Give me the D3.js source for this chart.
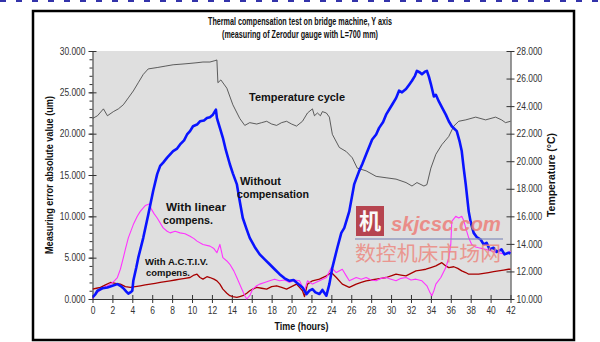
<!DOCTYPE html>
<html><head><meta charset="utf-8">
<script src="https://cdn.jsdelivr.net/npm/d3@7"></script>
<style>
body{margin:0;background:#fff;}
svg{display:block;}
text{font-family:"Liberation Sans","Arial",sans-serif;}
</style></head>
<body>
<svg id="c" width="600" height="342"></svg>
<script>
// ---- data ----
const titleLines = ["Thermal compensation test on bridge machine, Y axis", "(measuring of Zerodur gauge with L=700 mm)"];
const xTicks = d3.range(0, 43, 2);
const leftTicks = [0, 5, 10, 15, 20, 25, 30];
const rightTicks = [10, 12, 14, 16, 18, 20, 22, 24, 26, 28];

const tempHours = [0,0.5,1.1,1.5,2.1,2.6,3.1,3.6,4.1,4.6,5.1,5.6,6.5,7.3,8.1,9.0,9.8,10.5,11.1,11.8,12.3,12.5,12.6,12.9,13.2,13.5,14.1,14.8,15.3,15.8,16.5,17.0,17.5,18.0,18.5,19.0,19.5,20.0,20.5,21.1,21.6,22.1,22.3,22.6,22.9,23.1,23.5,23.8,24.1,24.8,25.5,26.1,26.6,27.5,28.5,29.5,30.5,31.5,32.1,32.6,33.3,33.6,34.0,34.5,35.1,35.8,36.3,36.8,37.5,38.5,39.5,40.5,41.1,41.5,42];
const tempValues = [23.1,23.3,23.8,23.3,23.6,23.8,24.1,24.6,25.1,25.7,26.3,26.7,26.8,26.9,27.0,27.05,27.1,27.15,27.2,27.2,27.3,27.35,25.7,25.9,25.6,25.3,24.1,23.1,22.6,22.8,22.7,22.8,22.9,22.7,22.6,22.8,22.9,22.7,22.55,22.9,23.5,23.8,23.3,23.5,23.3,23.6,23.5,23.2,21.95,21.0,20.7,20.25,19.5,19.3,18.9,18.8,18.7,18.45,18.2,18.45,18.2,18.3,19.5,20.5,21.2,21.8,22.55,22.9,23.0,23.2,23.0,23.2,23.0,22.8,22.9];

const withoutHours = [0,0.3,0.5,1.0,1.5,2.0,2.5,2.8,3.1,3.4,3.6,3.8,4.0,4.1,4.4,4.6,5.1,5.6,6.1,6.5,6.8,7.1,7.5,8.1,8.5,8.8,9.2,9.5,9.8,10.1,10.5,10.8,11.2,11.5,11.8,12.1,12.4,12.5,12.6,12.8,13.1,13.4,13.8,14.1,14.5,14.8,15.1,15.5,15.8,16.3,16.8,17.3,17.8,18.3,18.8,19.3,19.8,20.2,20.5,20.8,21.1,21.5,21.8,22.1,22.4,22.8,23.1,23.5,23.8,24.1,24.6,25.0,25.3,25.8,26.3,26.8,27.1,27.5,28.1,28.5,28.8,29.2,29.5,30.1,30.5,30.8,31.1,31.5,31.8,32.1,32.4,32.6,32.9,33.1,33.4,33.6,33.8,34.0,34.3,34.5,34.8,35.1,35.5,35.8,36.1,36.6,36.9,37.1,37.3,37.5,37.8,38.0,38.3,38.6,39.0,39.3,39.6,39.9,40.3,40.6,41.1,41.4,41.8,42];
const withoutValues = [0.2,0.6,1.0,1.3,1.4,1.6,1.8,1.6,1.3,0.9,0.65,0.8,1.0,2.2,3.8,5.0,7.4,10.2,13.1,15.1,16.1,16.5,17.1,17.9,18.2,18.7,19.2,19.9,20.3,20.9,21.1,21.5,21.6,21.9,22.0,22.3,22.9,21.9,21.5,20.7,19.5,18.0,16.3,15.2,13.9,11.8,9.8,8.4,7.4,6.3,5.4,4.8,4.2,3.6,3.0,2.5,2.2,2.3,2.0,1.7,1.4,0.6,1.0,1.2,0.8,0.6,1.1,0.4,1.8,3.8,6.2,8.0,8.6,10.6,13.9,15.5,16.3,17.5,19.3,19.9,20.7,21.4,22.3,23.5,24.3,25.2,25.0,25.4,25.9,26.4,27.0,27.6,27.4,27.2,27.5,27.6,26.9,26.0,24.5,24.7,23.9,23.2,22.3,21.5,20.9,20.3,19.0,17.9,15.8,13.9,10.6,9.3,8.0,7.5,7.2,6.6,6.8,6.0,6.2,5.7,6.0,5.4,5.6,5.5];

const linearHours = [0,0.3,0.7,1.1,1.5,1.8,2.2,2.5,2.8,3.1,3.3,3.6,4.1,4.5,4.8,5.3,5.7,5.9,6.2,6.5,7.1,7.5,7.8,8.3,8.8,9.3,9.8,10.2,10.5,11.1,11.8,12.2,12.5,12.8,13.1,13.5,13.8,14.2,14.5,15.0,15.3,15.5,15.8,16.1,16.5,16.8,17.3,17.8,18.3,18.8,19.3,19.8,20.3,20.8,21.3,21.6,22.1,22.8,23.5,24.0,24.5,25.1,25.5,25.8,26.5,27.0,27.5,28.0,28.5,29.0,29.5,30.0,30.5,31.0,31.5,32.0,32.5,33.1,33.6,33.9,34.1,34.3,34.5,35.0,35.5,35.8,36.0,36.1,36.5,36.8,37.1,37.3,37.5,37.8,38.1,38.5,38.8,39.5,40.1,40.8,41.5,42];
const linearValues = [0,0.6,1.0,1.4,1.6,1.8,2.2,2.6,3.6,5.0,6.0,7.4,9.0,10.0,10.6,11.3,11.5,10.9,10.3,9.8,8.6,8.2,8.0,8.2,8.0,7.9,7.6,7.3,7.0,6.6,6.4,6.1,5.6,6.6,5.0,4.6,4.2,3.4,2.6,1.2,0.4,0,0.4,1.2,1.6,1.8,2.0,2.2,2.4,2.2,2.3,2.0,2.3,2.2,1.0,2.2,1.8,2.2,2.6,3.8,3.2,3.6,2.8,2.2,2.6,2.4,2.6,2.3,2.2,2.5,2.6,2.4,2.2,2.5,2.6,2.3,2.4,2.2,1.6,0.8,0.4,1.0,1.8,2.6,3.8,5.0,6.6,9.4,10.0,9.8,10.0,9.5,8.6,7.4,6.6,6.3,6.2,6.0,5.8,5.6,5.4,5.8];

const activHours = [0,0.4,0.8,1.3,1.8,2.3,2.8,3.3,3.8,4.3,4.8,5.3,5.8,6.3,6.8,7.3,7.8,8.3,8.8,9.3,9.8,10.2,10.5,10.8,11.1,11.5,11.8,12.2,12.5,12.8,13.1,13.5,13.8,14.1,14.5,14.8,15.1,15.5,15.8,16.1,16.5,17.0,17.5,18.0,18.5,19.0,19.5,20.0,20.5,20.8,21.1,21.3,21.6,22.1,22.8,23.5,24.0,24.5,25.1,25.8,26.5,27.0,27.5,28.0,28.5,29.0,29.5,30.0,30.5,31.0,31.5,32.0,32.5,33.0,33.5,34.0,34.5,35.1,35.5,35.8,36.3,36.7,37.1,37.5,37.8,38.3,38.8,39.3,39.8,40.3,40.8,41.3,41.8,42];
const activValues = [1.2,1.3,1.4,1.7,2.0,1.9,1.8,1.5,1.4,1.5,1.6,1.7,1.8,1.9,2.0,2.1,2.2,2.3,2.4,2.5,2.6,2.9,3.0,2.6,2.4,2.7,2.6,2.4,2.2,1.8,1.2,0.7,0.4,0.3,0.2,0.3,0.4,0.7,1.0,1.2,1.4,1.3,1.2,1.5,1.6,1.4,1.2,1.5,1.8,1.4,1.0,0.3,1.8,2.2,2.4,2.8,3.2,2.6,1.8,1.4,1.8,2.0,2.2,2.3,2.4,2.5,2.6,2.8,3.0,2.9,2.8,3.1,3.4,3.5,3.6,3.8,4.0,4.4,4.0,3.8,3.9,3.7,3.4,3.2,3.0,3.0,3.0,3.1,3.2,3.3,3.4,3.5,3.6,3.6];

// ---- layout ----
const svg = d3.select("#c");
const L = 92.5, R = 510.5, T = 51, B = 299;
const x = d3.scaleLinear().domain([0, 42]).range([L, R]);
const yL = d3.scaleLinear().domain([0, 30]).range([B, T]);
const yR = d3.scaleLinear().domain([10, 28]).range([B, T]);

// narrow-text helper: width estimated for a condensed face
function narrowWidth(s, k){
  let w = 0;
  for (const ch of s){
    if (/[0-9]/.test(ch)) w += 4.7;
    else if (ch === "." || ch === ",") w += 2.3;
    else w += 4.7;
  }
  return w * (k || 1);
}

// top dashed blue line
svg.append("line").attr("x1",0).attr("x2",600).attr("y1",1).attr("y2",1)
  .attr("stroke","#3333aa").attr("stroke-width",2).attr("stroke-dasharray","6,10");

// frame
svg.append("rect").attr("x",33).attr("y",11).attr("width",541).attr("height",329)
  .attr("fill","#fff").attr("stroke","#000").attr("stroke-width",2.5);

// plot background
svg.append("rect").attr("x",L).attr("y",T).attr("width",R-L).attr("height",B-T).attr("fill","#dfdfdf");

function bold(xx, yy, t, fs, len, anchor){
  return svg.append("text").attr("x",xx).attr("y",yy).attr("font-size",fs).attr("font-weight","bold")
    .attr("fill","#111").attr("text-anchor",anchor||"start")
    .attr("textLength",len).attr("lengthAdjust","spacingAndGlyphs").text(t);
}
// title
bold(300, 25, titleLines[0], 10.5, 184, "middle");
bold(300, 38, titleLines[1], 10.5, 156, "middle");

const fmt = d3.format(".3f");
// left axis minor ticks
const gl = svg.append("g").attr("transform",`translate(${L},0)`)
  .call(d3.axisLeft(yL).tickValues(d3.range(0,31,1)).tickSize(3).tickFormat(""));
gl.selectAll(".tick line").attr("stroke","#333");
gl.select(".domain").remove();
const glm = svg.append("g").attr("transform",`translate(${L},0)`)
  .call(d3.axisLeft(yL).tickValues(leftTicks).tickSizeInner(4).tickSizeOuter(0).tickPadding(5).tickFormat(fmt));
glm.select(".domain").attr("stroke","#333");
glm.selectAll(".tick line").attr("x2",4).attr("x1",-4).attr("stroke","#333");
glm.selectAll(".tick text").attr("font-size",10).attr("fill","#333").attr("x",-7)
  .attr("textLength",d=>narrowWidth(fmt(d))).attr("lengthAdjust","spacingAndGlyphs");

// right axis
const gr = svg.append("g").attr("transform",`translate(${R},0)`)
  .call(d3.axisRight(yR).tickValues(rightTicks).tickSizeInner(4).tickSizeOuter(0).tickFormat(fmt));
gr.select(".domain").attr("stroke","#333");
gr.selectAll(".tick line").attr("x1",-4).attr("x2",4).attr("stroke","#333");
gr.selectAll(".tick text").attr("font-size",10).attr("fill","#333").attr("x",6)
  .attr("textLength",d=>narrowWidth(fmt(d))).attr("lengthAdjust","spacingAndGlyphs");

// bottom axis
const gb = svg.append("g").attr("transform",`translate(0,${B})`)
  .call(d3.axisBottom(x).tickValues(xTicks).tickSizeInner(4).tickSizeOuter(0).tickFormat(d3.format("d")));
gb.select(".domain").attr("stroke","#333");
gb.selectAll(".tick line").attr("y1",-4).attr("y2",4).attr("stroke","#333");
gb.selectAll(".tick text").attr("font-size",10).attr("fill","#333").attr("y",8)
  .attr("textLength",d=>narrowWidth(String(d))).attr("lengthAdjust","spacingAndGlyphs");

// axis titles
svg.append("text").attr("transform",`translate(53,${(T+B)/2}) rotate(-90)`).attr("text-anchor","middle")
  .attr("font-size",10).attr("font-weight","bold").attr("fill","#111")
  .attr("textLength",158).attr("lengthAdjust","spacingAndGlyphs").text("Measuring error absolute value (um)");
svg.append("text").attr("transform",`translate(555,${(T+B)/2}) rotate(-90)`).attr("text-anchor","middle")
  .attr("font-size",10).attr("font-weight","bold").attr("fill","#111")
  .attr("textLength",84).attr("lengthAdjust","spacingAndGlyphs").text("Temperature (°C)");
bold((L+R)/2, 330, "Time (hours)", 10, 54, "middle");

// lines
svg.append("clipPath").attr("id","pc").append("rect").attr("x",L).attr("y",T-2).attr("width",R-L+1).attr("height",B-T+3);
const plotG = svg.append("g").attr("clip-path","url(#pc)");
function drawLine(hours, vals, ys, color, w){
  const pts = hours.map((h,i)=>[h, vals[i]]);
  plotG.append("path").datum(pts)
    .attr("fill","none").attr("stroke",color).attr("stroke-width",w).attr("stroke-linejoin","round")
    .attr("d", d3.line().x(d=>x(d[0])).y(d=>ys(d[1])));
}
drawLine(tempHours, tempValues, yR, "#3a3a3a", 0.8);
drawLine(activHours, activValues, yL, "#a80000", 1.3);
drawLine(linearHours, linearValues, yL, "#ff33ff", 1.1);
drawLine(withoutHours, withoutValues, yL, "#0a14ff", 2.6);

// series labels
bold(249, 101, "Temperature cycle", 11, 96);
bold(240, 185, "Without", 11, 41);
bold(237, 198, "compensation", 11, 72);
bold(166, 211, "With linear", 11, 60);
bold(163, 224, "compens.", 11, 50);
bold(145, 265, "With A.C.T.I.V.", 9.5, 63);
bold(146, 276, "compens.", 9.5, 44);

// watermark
const wm = svg.append("g").attr("opacity",0.85);
wm.append("rect").attr("x",356).attr("y",206).attr("width",28).attr("height",30).attr("fill","#b02a36");
wm.append("text").attr("x",370).attr("y",229).attr("text-anchor","middle").attr("font-size",22).attr("font-weight","bold")
  .attr("fill","#fff").style("font-family","'Noto Sans CJK SC',sans-serif").text("机");
wm.append("text").attr("x",391).attr("y",231).attr("font-size",20).attr("font-weight","bold").attr("font-style","italic")
  .attr("textLength",110).attr("lengthAdjust","spacingAndGlyphs")
  .attr("fill","#ec7f7a").style("font-family","'Liberation Sans',sans-serif").text("skjcsc.com");
wm.append("line").attr("x1",355).attr("x2",503).attr("y1",239).attr("y2",239).attr("stroke","#8a92bb").attr("stroke-width",1.5);
wm.append("text").attr("x",355).attr("y",261).attr("font-size",20).attr("textLength",146).attr("lengthAdjust","spacingAndGlyphs")
  .attr("fill","#ec8a82").style("font-family","'Noto Sans CJK SC',sans-serif").text("数控机床市场网");
</script>
</body></html>
